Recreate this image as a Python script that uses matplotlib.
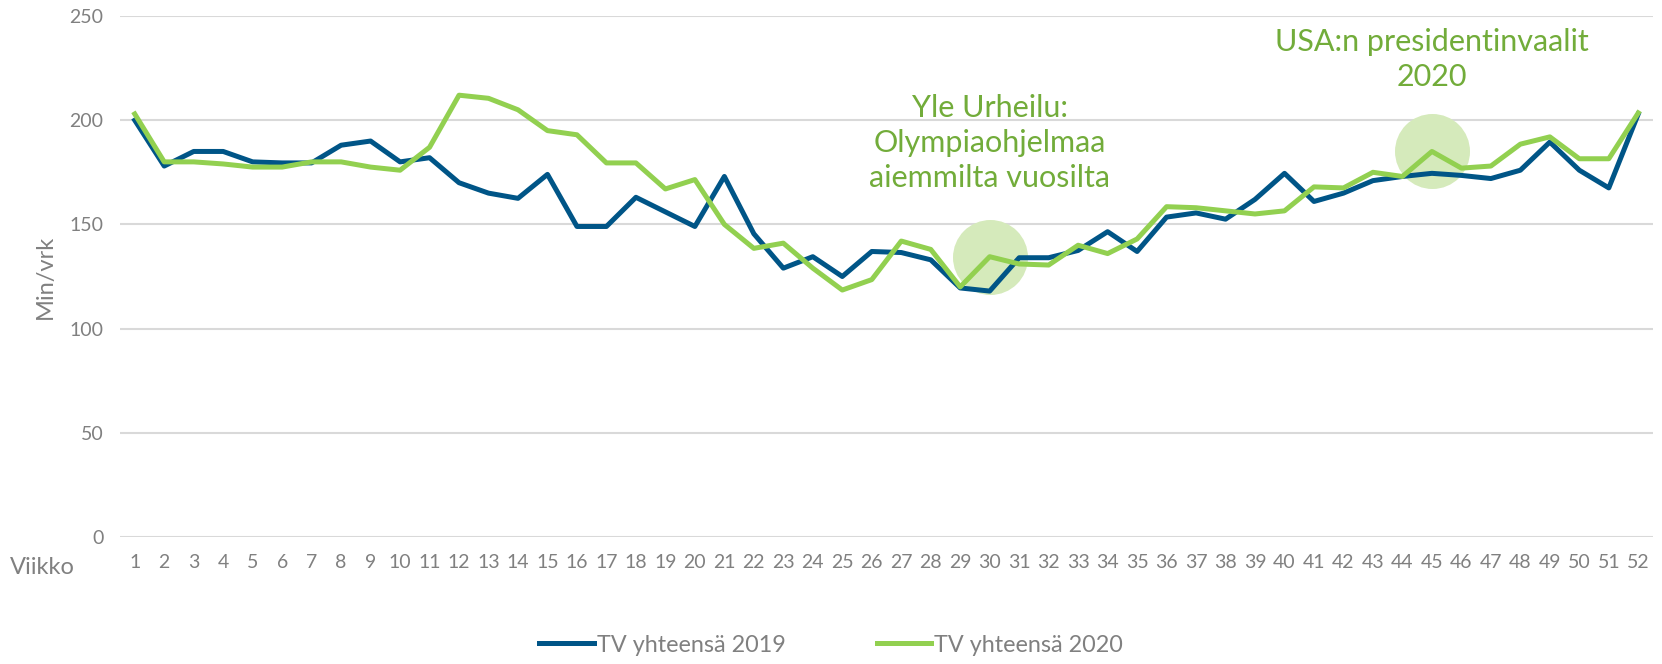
import matplotlib
matplotlib.use("Agg")
from matplotlib import pyplot as plt
import numpy as np

plt.rcParams['font.family'] = ['Lato', 'DejaVu Sans']

weeks = list(range(1, 53))
tv_2019 = [200, 178, 185, 185, 180, 179.5, 179.5, 188, 190, 180,
           182, 170, 165, 162.5, 174, 149, 149, 163, 156, 149,
           173, 145.5, 129, 134.5, 125, 137, 136.5, 133, 119.5, 118,
           134, 134, 137.5, 146.5, 137, 153.5, 155.5, 152.5, 162, 174.5,
           161, 165, 171, 173, 174.5, 173.5, 172, 176, 189.5, 176,
           167.5, 203]
tv_2020 = [203, 180, 180, 179, 177.5, 177.5, 180, 180, 177.5, 176,
           187, 212, 210.5, 205, 195, 193, 179.5, 179.5, 167, 171.5,
           150, 138.5, 141, 129, 118.5, 123.5, 142, 138, 120, 134.5,
           131, 130.5, 140, 136, 143, 158.5, 158, 156.5, 155, 156.5,
           168, 167.5, 175, 173, 185, 177, 178, 188.5, 192, 181.5,
           181.5, 203.5]
y_ticks = [0, 50, 100, 150, 200, 250]

notes = ["Yle Urheilu:\nOlympiaohjelmaa\naiemmilta vuosilta",
         "USA:n presidentinvaalit\n2020"]
note_weeks = [30, 45]
note_y = [189, 229]

blue = '#005587'
green = '#92d050'
text_green = '#72ac3a'
gray = '#808080'

fig = plt.figure(figsize=(16.62, 6.64), dpi=100)
ax = fig.add_axes([0.0722, 0.1913, 0.9224, 0.7846])

ax.plot(weeks, tv_2019, color=blue, lw=3.6, label='TV yhteensä 2019', zorder=3)
ax.plot(weeks, tv_2020, color=green, lw=3.6, label='TV yhteensä 2020', zorder=4)

# highlight circles behind the lines
for w in note_weeks:
    ax.plot([w], [tv_2020[w - 1]], 'o', ms=54, color='#d5eabb', mec='none', zorder=2)

for txt, w, y in zip(notes, note_weeks, note_y):
    ax.text(w, y, txt, ha='center', va='center', fontsize=22, color=text_green,
            linespacing=1.3, zorder=5)

ax.set_xlim(0.5, 52.5)
ax.set_ylim(0, 250)
ax.set_yticks(y_ticks)
ax.set_xticks(weeks)
ax.set_xticklabels([str(w) for w in weeks])
ax.grid(axis='y', color='#d9d9d9', lw=1.5, zorder=0)
ax.set_axisbelow(True)
for s in ax.spines.values():
    s.set_visible(False)
ax.tick_params(length=0, colors=gray, labelsize=14)
ax.tick_params(axis='y', pad=12)
ax.tick_params(axis='x', pad=12)

ax.set_ylabel('Min/vrk', color=gray, fontsize=17, labelpad=10)
fig.text(10 / 1662, 1 - 567 / 664, 'Viikko', color=gray, fontsize=17,
         ha='left', va='center')

leg = fig.legend(loc='center', bbox_to_anchor=(0.5, 1 - 645 / 664), ncol=2, frameon=False,
                 fontsize=16.8, handlelength=2.35, handletextpad=0.1, columnspacing=3.9)
for t in leg.get_texts():
    t.set_color(gray)

fig.savefig('out.png', dpi=100)
